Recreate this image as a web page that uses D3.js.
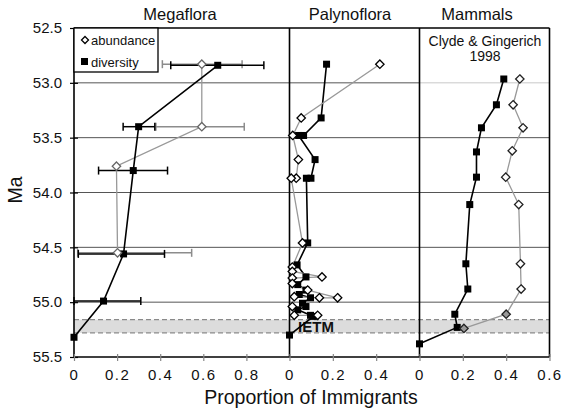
<!DOCTYPE html>
<html><head><meta charset="utf-8">
<script src="https://cdn.jsdelivr.net/npm/d3@7"></script>
<style>body{margin:0;background:#fff}svg{display:block}text{font-family:"Liberation Sans",Arial,sans-serif;fill:#111}</style>
</head><body><svg id="c" width="566" height="413"></svg>
<script>
// ---- data ----
const maTicks = [52.5, 53.0, 53.5, 54.0, 54.5, 55.0, 55.5];
const gridMa = [53.0, 53.5, 54.0, 54.5, 55.0];
const ietm = [55.16, 55.28];
const panelTitles = ["Megaflora", "Palynoflora", "Mammals"];
const megaTicks = [0, 0.2, 0.4, 0.6, 0.8];
const palyTicks = [0, 0.2, 0.4];
const mammTicks = [0, 0.2, 0.4, 0.6];

// Megaflora: [Ma, value, errLow, errHigh]
const megaDiversity = [[52.84,0.667,0.449,0.881],[53.40,0.30,0.228,0.375],[53.80,0.275,0.114,0.434],[54.56,0.23,0.02,0.42],[54.99,0.137,0,0.31],[55.32,0,null,null]];
const megaAbundance = [[52.83,0.593,0.41,0.78],[53.40,0.593,0.38,0.79],[53.76,0.197,null,null],[54.55,0.202,0.017,0.546]];

// Palynoflora: [Ma, value]
const palyDiversity = [[52.83,0.171],[53.32,0.146],[53.48,0.065],[53.48,0.042],[53.70,0.118],[53.87,0.099],[53.87,0.078],[54.46,0.084],[54.66,0.035],[54.77,0.076],[54.84,0.038],[54.89,0.076],[54.93,0.045],[54.96,0.097],[55.01,0.06],[55.04,0.076],[55.07,0.038],[55.12,0.097],[55.13,0.11],[55.30,0]];
const palyAbundance = [[52.83,0.417],[53.32,0.054],[53.48,0.015],[53.70,0.041],[53.87,0.031],[53.87,0.008],[54.46,0.06],[54.68,0.013],[54.72,0.013],[54.77,0.15],[54.78,0.013],[54.83,0.013],[54.89,0.084],[54.96,0.222],[54.96,0.138],[54.95,0.022],[55.04,0.013],[55.12,0.022],[55.12,0.13]];

// Mammals (Clyde & Gingerich 1998): [Ma, value]
const mammDiversity = [[52.965,0.389],[53.20,0.355],[53.41,0.286],[53.63,0.263],[53.86,0.263],[54.11,0.232],[54.65,0.214],[54.88,0.223],[55.11,0.163],[55.23,0.174],[55.38,0]];
const mammAbundance = [[52.965,0.463],[53.20,0.432],[53.41,0.478],[53.62,0.428],[53.86,0.398],[54.11,0.458],[54.65,0.466],[54.88,0.469],[55.11,0.40],[55.24,0.205]];
const mammGrayFilled = [false,false,false,false,false,false,false,false,true,true];

// ---- layout ----
const svg = d3.select("#c");
const pTop = 28, pBottom = 357;
const y = d3.scaleLinear().domain([52.5, 55.5]).range([pTop, pBottom]);
const xM = d3.scaleLinear().domain([0, 1]).range([74, 289.5]);
const xP = d3.scaleLinear().domain([0, 0.6]).range([289.5, 419.5]);
const xA = d3.scaleLinear().domain([0, 0.6]).range([419.5, 549.5]);
const pLeft = 74, pRight = 549.5;

// IETM band
svg.append("rect").attr("x", pLeft).attr("width", pRight-pLeft)
  .attr("y", y(ietm[0])).attr("height", y(ietm[1]) - y(ietm[0])).attr("fill", "#dcdcdc");
ietm.forEach(m => svg.append("line").attr("x1", pLeft).attr("x2", pRight).attr("y1", y(m)).attr("y2", y(m))
  .attr("stroke", "#8a8a8a").attr("stroke-width", 1.2).attr("stroke-dasharray", "5,3"));

// gridlines
gridMa.forEach(m => {
  svg.append("line").attr("x1", pLeft).attr("x2", 419.5).attr("y1", y(m)).attr("y2", y(m)).attr("stroke", "#555").attr("stroke-width", 1);
  svg.append("line").attr("x1", 419.5).attr("x2", pRight).attr("y1", y(m)).attr("y2", y(m)).attr("stroke", m === 53.0 ? "#c8c8c8" : "#555").attr("stroke-width", 1);
});

// IETM label
svg.append("text").attr("x", 316).attr("y", 332).attr("text-anchor", "middle")
  .style("font-weight", "bold").style("font-size", "15px").text("IETM");

// frame
svg.append("line").attr("x1", pLeft).attr("x2", pRight).attr("y1", pTop).attr("y2", pTop).attr("stroke", "#000").attr("stroke-width", 1.3);
svg.append("line").attr("x1", pLeft).attr("x2", pRight).attr("y1", pBottom).attr("y2", pBottom).attr("stroke", "#000").attr("stroke-width", 1.3);
[pLeft, 289.5, 419.5, pRight].forEach(xx => svg.append("line").attr("x1", xx).attr("x2", xx).attr("y1", pTop).attr("y2", pBottom).attr("stroke", "#000").attr("stroke-width", 1.6));

// y axis
const yAxis = d3.axisLeft(y).tickValues(maTicks).tickFormat(d3.format(".1f")).tickSize(4).tickPadding(8);
const ya = svg.append("g").attr("transform", `translate(${pLeft},0)`).call(yAxis);
ya.select(".domain").remove();
ya.selectAll(".tick line").attr("x2", 4).attr("x1", -4).attr("stroke", "#000").attr("stroke-width", 1.2);
ya.selectAll("text").style("font-size", "15px").attr("fill", "#111");

// x axes
function xAxis(sc, ticks) {
  const g = svg.append("g").attr("transform", `translate(0,${pBottom})`)
    .call(d3.axisBottom(sc).tickValues(ticks).tickFormat(d => d === 0 ? "0" : d3.format(".1f")(d)).tickSize(4).tickPadding(8));
  g.select(".domain").remove();
  g.selectAll(".tick line").attr("y1", -3).attr("stroke", "#888").attr("stroke-width", 1.2);
  g.selectAll("text").style("font-size", "15px").style("letter-spacing", "1.5px").attr("fill", "#111");
}
xAxis(xM, megaTicks); xAxis(xP, palyTicks); xAxis(xA, mammTicks);

// titles
const titleX = [180, 350, 477];
panelTitles.forEach((t, i) => svg.append("text").attr("x", titleX[i]).attr("y", 20).attr("text-anchor", "middle").style("font-size", "16.5px").text(t));
svg.append("text").attr("x", 485).attr("y", 46).attr("text-anchor", "middle").style("font-size", "14px").text("Clyde & Gingerich");
svg.append("text").attr("x", 485).attr("y", 61).attr("text-anchor", "middle").style("font-size", "14px").text("1998");
svg.append("text").attr("x", 311).attr("y", 404).attr("text-anchor", "middle").style("font-size", "19.5px").text("Proportion of Immigrants");
svg.append("text").attr("transform", "translate(22,190) rotate(-90)").attr("text-anchor", "middle").style("font-size", "19.5px").text("Ma");

// helpers
const diamond = (cx, cy, r) => `M${cx},${cy-r}L${cx+r},${cy}L${cx},${cy+r}L${cx-r},${cy}Z`;
function series(xs, data, opts) {
  const line = d3.line().x(d => xs(d[1])).y(d => y(d[0]));
  svg.append("path").datum(data).attr("d", line).attr("fill", "none")
    .attr("stroke", opts.lineColor).attr("stroke-width", opts.lineWidth);
}
function errorBars(xs, data, color) {
  data.filter(d => d[2] !== null).forEach(d => {
    const yy = y(d[0]);
    svg.append("line").attr("x1", xs(d[2])).attr("x2", xs(d[3])).attr("y1", yy).attr("y2", yy).attr("stroke", color).attr("stroke-width", 1.5);
    [d[2], d[3]].forEach(v => svg.append("line").attr("x1", xs(v)).attr("x2", xs(v)).attr("y1", yy-4).attr("y2", yy+4).attr("stroke", color).attr("stroke-width", 1.5));
  });
}
function squares(xs, data) {
  svg.append("g").selectAll("rect").data(data).join("rect")
    .attr("x", d => xs(d[1]) - 3.5).attr("y", d => y(d[0]) - 3.5).attr("width", 7).attr("height", 7).attr("fill", "#000");
}
function diamonds(xs, data, stroke, fills) {
  svg.append("g").selectAll("path").data(data).join("path")
    .attr("d", d => diamond(xs(d[1]), y(d[0]), 4.2))
    .attr("fill", (d, i) => fills && fills[i] ? "#999" : "#fff")
    .attr("stroke", stroke).attr("stroke-width", 1.3);
}

// Megaflora
errorBars(xM, megaAbundance, "#8c8c8c");
errorBars(xM, megaDiversity, "#000");
series(xM, megaAbundance, {lineColor: "#999", lineWidth: 1.3});
series(xM, megaDiversity, {lineColor: "#000", lineWidth: 1.6});
squares(xM, megaDiversity);
diamonds(xM, megaAbundance, "#666");

// Palynoflora
series(xP, palyDiversity, {lineColor: "#000", lineWidth: 1.6});
series(xP, palyAbundance, {lineColor: "#999", lineWidth: 1.3});
squares(xP, palyDiversity);
diamonds(xP, palyAbundance, "#000");

// Mammals
series(xA, mammAbundance, {lineColor: "#999", lineWidth: 1.3});
series(xA, mammDiversity, {lineColor: "#000", lineWidth: 1.6});
squares(xA, mammDiversity);
diamonds(xA, mammAbundance, "#222", mammGrayFilled);

// legend
const lg = svg.append("g");
lg.append("rect").attr("x", 74).attr("y", 28).attr("width", 84).attr("height", 44).attr("fill", "#fff").attr("stroke", "#000").attr("stroke-width", 1.3);
lg.append("path").attr("d", diamond(85, 40, 3.5)).attr("fill", "#fff").attr("stroke", "#000").attr("stroke-width", 1.3);
lg.append("text").attr("x", 91).attr("y", 45).style("font-size", "13px").text("abundance");
lg.append("rect").attr("x", 81).attr("y", 58).attr("width", 7).attr("height", 7).attr("fill", "#000");
lg.append("text").attr("x", 91).attr("y", 67).style("font-size", "13px").text("diversity");
</script></body></html>
